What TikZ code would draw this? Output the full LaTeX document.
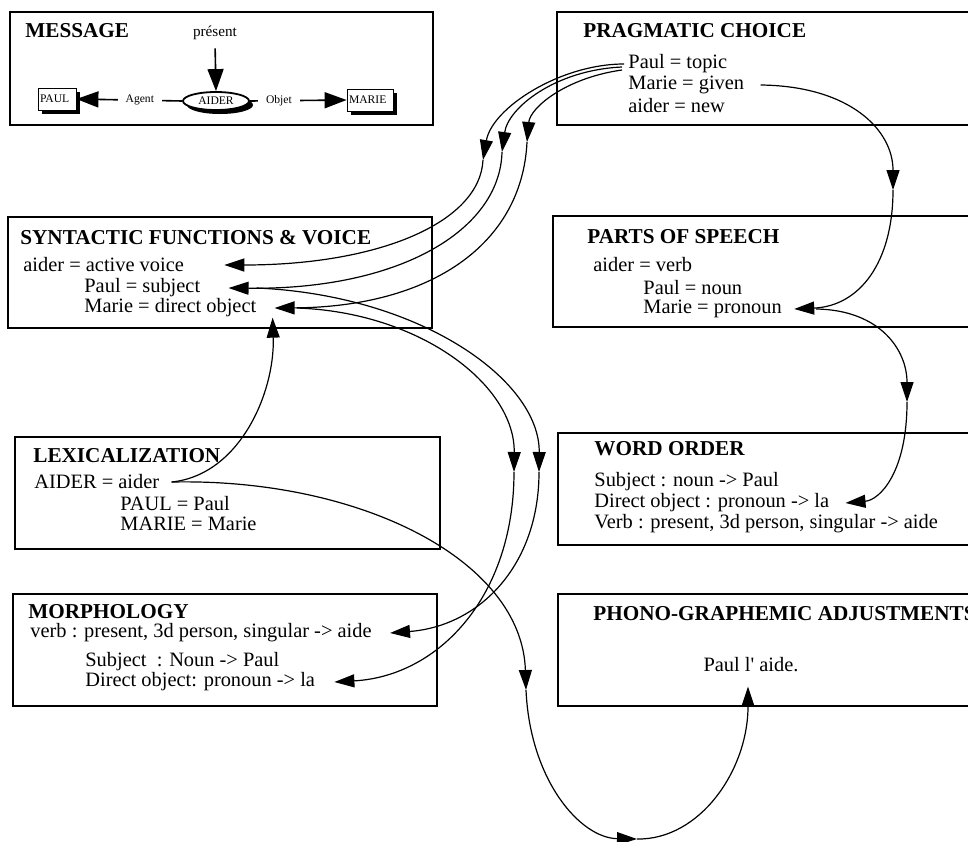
\documentclass[tikz,border=0pt]{standalone}
\usepackage{fontspec}
\setmainfont{Liberation Serif}[Ligatures=TeXOff]
\usetikzlibrary{arrows.meta, fit, shadows, shapes.geometric}
\tikzset{stage box/.style={draw, line width=1pt, inner sep=0pt},
    stage title/.style={anchor=west, inner sep=0pt,
        font=\fontsize{10.6}{12}\selectfont\bfseries},
    stage line/.style={anchor=west, inner sep=0pt,
        font=\fontsize{10.2}{12}\selectfont},
    tiny text/.style={inner sep=1pt, font=\fontsize{5.8}{6}\selectfont},
    dark shadow/.style={drop shadow={shadow xshift=2pt, shadow yshift=-2pt,
        opacity=1, fill=black}},
    flow/.style={line width=0.6pt, -{Triangle[length=10pt, width=6.5pt]}},
    big flow/.style={line width=0.8pt, -{Triangle[length=11pt, width=8pt]}}
}

\begin{document}
\begin{tikzpicture}[x=0.5pt, y=-0.5pt]
    % Init
    \useasboundingbox (0,0) rectangle (968,841);
    % 1. stage boxes
    \node[stage box, fit={(10,12) (433,125)}] (msg) {};
    \node[stage box, fit={(557,12) (990,125)}] (prag) {};
    \node[stage box, fit={(8,217) (432,328)}] (syn) {};
    \node[stage box, fit={(553,216) (990,327)}] (pos) {};
    \node[stage box, fit={(15,437) (440,549)}] (lex) {};
    \node[stage box, fit={(558,433) (990,545)}] (order) {};
    \node[stage box, fit={(13,594) (437,706)}] (morph) {};
    \node[stage box, fit={(558,594) (990,706)}] (phono) {};
    % 2. message graph
    \node[stage title] (msg-title) at (25,31) {MESSAGE};
    \node[inner sep=1pt, font=\fontsize{7.6}{8}\selectfont] (pres) at (215,33) {présent};
    \node[tiny text, draw, ellipse, line width=0.9pt, fill=white, dark shadow,
        inner sep=0pt, minimum width=33pt, minimum height=9pt] (aider-ev) at (216,101) {AIDER};
    \node[tiny text, draw, fill=white, dark shadow, text width=17pt, align=left,
        minimum height=11pt] (paul-ev) at (57,99) {PAUL};
    \node[tiny text, draw, fill=white, dark shadow, text width=21pt, align=left,
        minimum height=11pt] (marie-ev) at (370,100) {MARIE};
    \draw[big flow, shorten <=3pt] (pres.south) -- (aider-ev.north);
    \draw[big flow] (aider-ev.west) -- node[tiny text, fill=white, pos=0.4, inner xsep=4pt] {Agent} (paul-ev.east);
    \draw[big flow] (aider-ev.east) -- node[tiny text, fill=white, pos=0.3, inner xsep=4pt] {Objet} (marie-ev.west);
    % 3. stage texts
    \node[stage title] (prag-title) at (583,31) {PRAGMATIC CHOICE};
    \node[stage line] (prag-paul) at (628,64) {Paul = topic};
    \node[stage line] (prag-marie) at (628,85) {Marie = given};
    \node[stage line] (prag-aider) at (628,106) {aider = new};
    \node[stage title] (syn-title) at (20,238) {SYNTACTIC FUNCTIONS \& VOICE};
    \node[stage line] (syn-aider) at (23,265) {aider = active voice};
    \node[stage line] (syn-paul) at (84,288) {Paul = subject};
    \node[stage line] (syn-marie) at (84,308) {Marie = direct object};
    \node[stage title] (pos-title) at (587,237) {PARTS OF SPEECH};
    \node[stage line] (pos-aider) at (593,265) {aider = verb};
    \node[stage line] (pos-paul) at (643,288) {Paul = noun};
    \node[stage line] (pos-marie) at (643,309) {Marie = pronoun};
    \node[stage title] (lex-title) at (33,456) {LEXICALIZATION};
    \node[stage line] (lex-aider) at (34,482) {AIDER = aider};
    \node[stage line] (lex-paul) at (120,504) {PAUL = Paul};
    \node[stage line] (lex-marie) at (120,524) {MARIE = Marie};
    \node[stage title] (order-title) at (594,449) {WORD ORDER};
    \node[stage line] (order-subj) at (594,482) {Subject : noun -> Paul};
    \node[stage line] (order-dobj) at (594,503) {Direct object : pronoun -> la};
    \node[stage line] (order-verb) at (594,524) {Verb : present, 3d person, singular -> aide};
    \node[stage title] (morph-title) at (28,612) {MORPHOLOGY};
    \node[stage line] (morph-verb) at (30,633) {verb : present, 3d person, singular -> aide};
    \node[stage line] (morph-subj) at (85,662) {Subject\ \ : Noun -> Paul};
    \node[stage line] (morph-dobj) at (85,682) {Direct object: pronoun -> la};
    \node[stage title] (phono-title) at (593,614) {PHONO-GRAPHEMIC ADJUSTMENTS};
    \node[stage line, anchor=center] (phono-out) at (751,665) {Paul l' aide.};
    % 4. turning points
    \coordinate (topic1) at (483,160);
    \coordinate (topic2) at (502,152);
    \coordinate (topic3) at (527,142);
    \coordinate (given) at (893,190);
    \coordinate (pronoun) at (907,402);
    \coordinate (subj) at (539,472);
    \coordinate (dobj) at (514,472);
    \coordinate (lexdown) at (526,690);
    \coordinate (bottom) at (637,839);
    % 5. flows
    \draw[flow] ([xshift=-2pt]prag-paul.west) .. controls (560,64) and (492,108) .. (topic1);
    \draw[flow] ([xshift=-3pt, yshift=-1.5pt]prag-paul.west) .. controls (555,70) and (508,108) .. (topic2);
    \draw[flow] ([xshift=-3pt, yshift=-3pt]prag-paul.west) .. controls (565,78) and (530,108) .. (topic3);
    \draw[flow] (topic1) .. controls (480,222) and (380,265) .. ([xshift=20pt]syn-aider.east);
    \draw[flow] (topic2) .. controls (500,230) and (400,290) .. ([xshift=14pt]syn-paul.east);
    \draw[flow] (topic3) .. controls (522,245) and (430,307) .. ([xshift=9pt]syn-marie.east);
    \draw[flow] ([xshift=8pt]prag-marie.east) .. controls (850,86) and (893,130) .. (given);
    \draw[flow] (given) .. controls (893,262) and (860,306) .. ([xshift=6pt]pos-marie.east);
    \draw[flow] ([xshift=17pt]pos-marie.east) .. controls (880,310) and (907,350) .. (pronoun);
    \draw[flow] (pronoun) .. controls (907,472) and (880,500) .. ([xshift=8pt]order-dobj.east);
    \draw[flow] ([xshift=28pt]syn-paul.east) .. controls (420,295) and (540,380) .. (subj);
    \draw[flow] ([xshift=20pt]syn-marie.east) .. controls (420,312) and (515,385) .. (dobj);
    \draw[flow] (subj) .. controls (539,565) and (480,626) .. ([xshift=9pt]morph-verb.east);
    \draw[flow] (dobj) .. controls (514,595) and (440,676) .. ([xshift=9.5pt]morph-dobj.east);
    \draw[flow] ([xshift=6pt]lex-aider.east) .. controls (240,475) and (275,392) .. ([xshift=8pt]syn-marie.south east);
    \draw[flow] ([xshift=6pt]lex-aider.east) .. controls (360,478) and (522,560) .. (lexdown);
    \draw[flow] (lexdown) .. controls (530,780) and (580,838) .. (bottom);
    \draw[flow] (bottom) .. controls (700,840) and (748,770) .. ([xshift=-1.5pt, yshift=-7pt]phono-out.south);
\end{tikzpicture}
\end{document}
